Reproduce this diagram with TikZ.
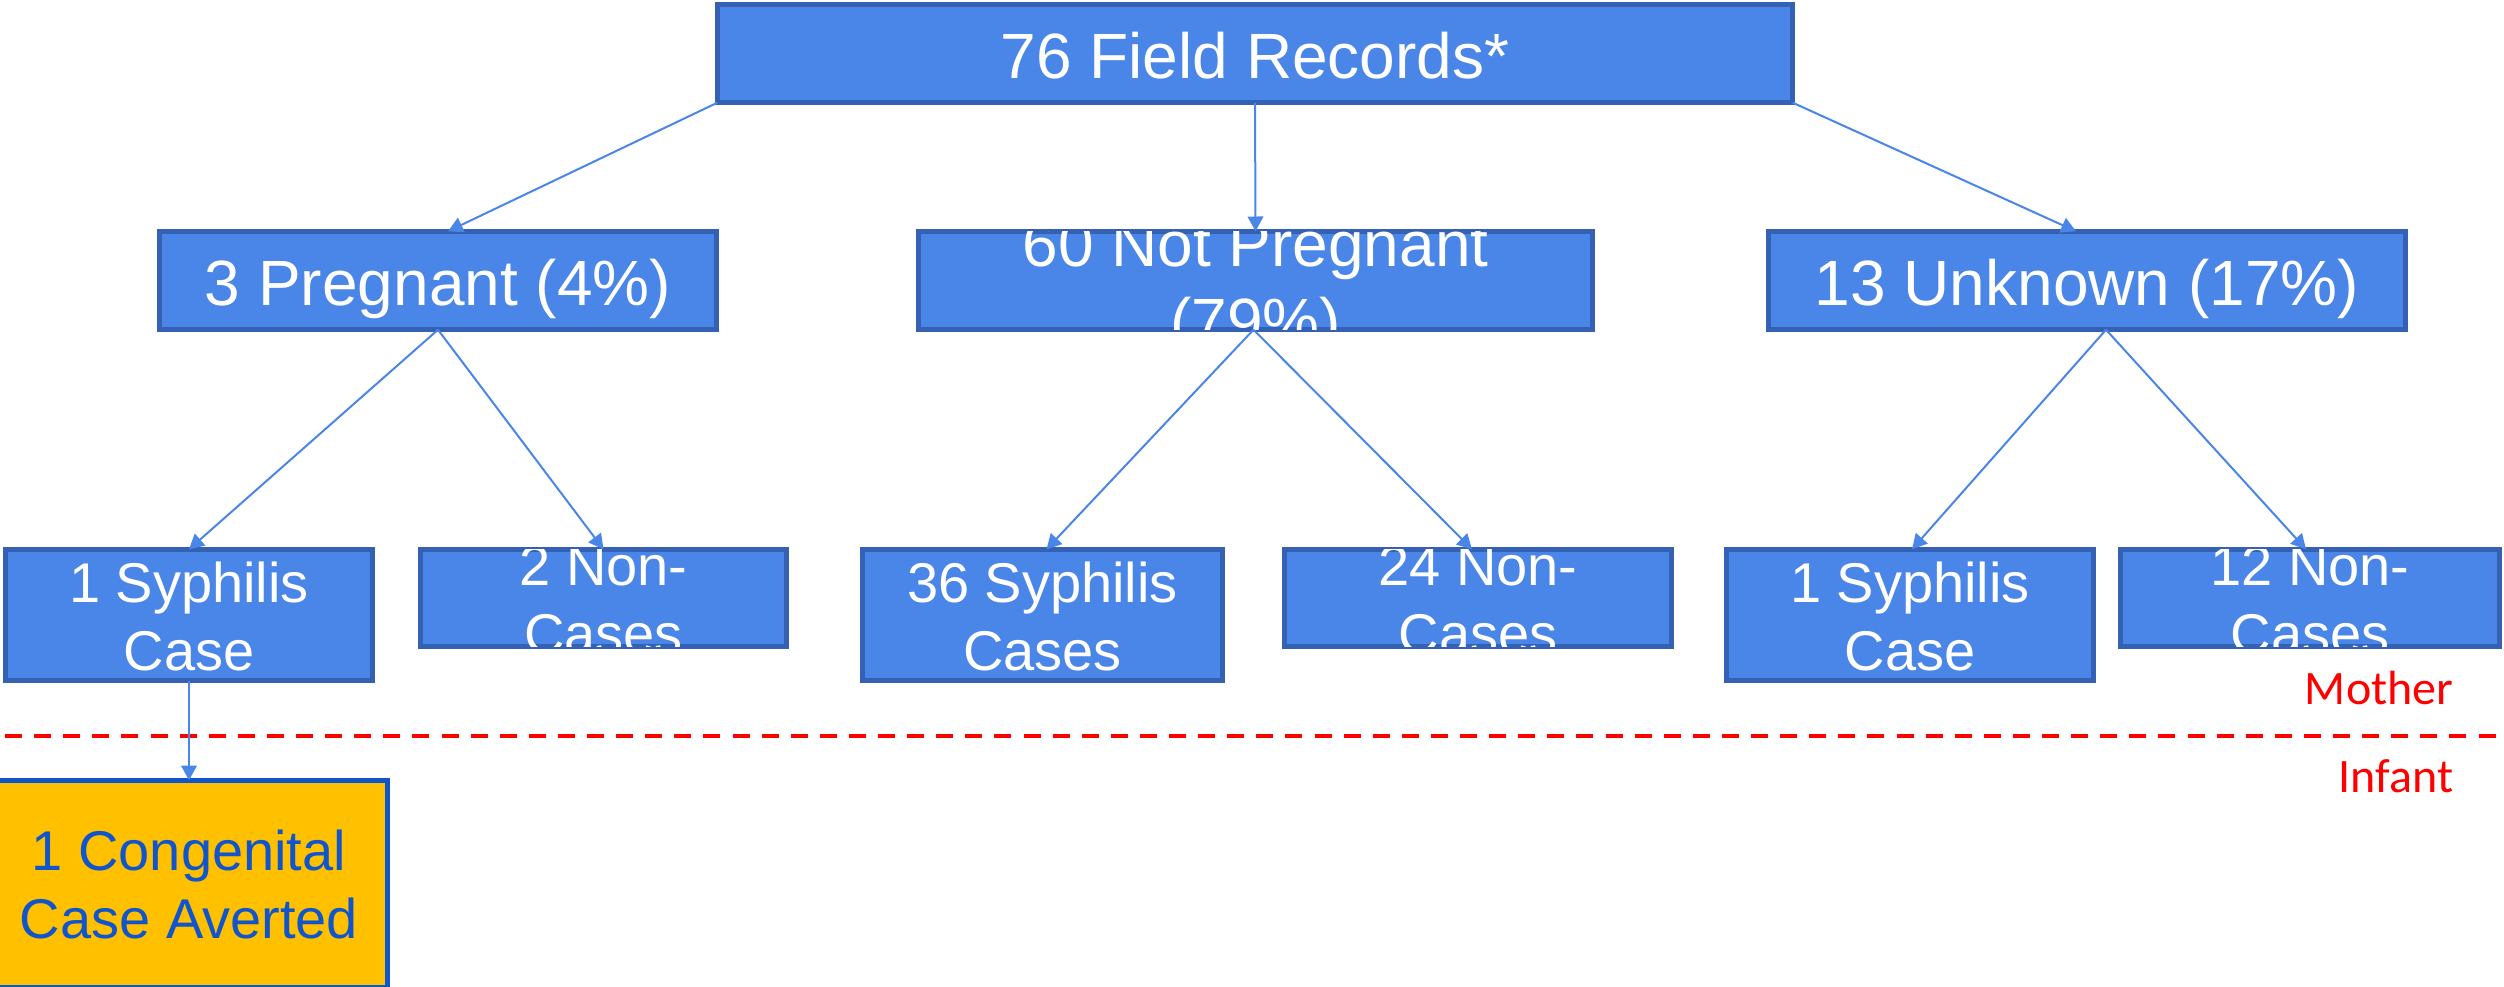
\documentclass[tikz,border=0pt]{standalone}
\usepackage{fontspec}
\setmainfont{Liberation Sans}
\newfontfamily\calfont{Carlito}
\usetikzlibrary{arrows.meta,calc}
\definecolor{boxfill}{HTML}{4A86E8}
\definecolor{boxline}{HTML}{3461B3}
\definecolor{connc}{HTML}{4A86E8}
\definecolor{congfill}{HTML}{FFC000}
\definecolor{congblue}{HTML}{1155CC}
\definecolor{sepred}{HTML}{FF0000}
\tikzset{
  box/.style={fill=boxfill, draw=boxline, line width=1.15pt, inner sep=0pt, outer sep=0pt},
  congbox/.style={fill=congfill, draw=congblue, line width=1.2pt, inner sep=0pt, outer sep=0pt},
  bigtext/.style={font=\fontsize{16}{19}\selectfont, text=white, anchor=base, inner sep=0pt},
  smalltext/.style={font=\fontsize{14}{17}\selectfont, text=white, anchor=base, inner sep=0pt},
  congtext/.style={font=\fontsize{14}{17}\selectfont, text=congblue, anchor=base, inner sep=0pt},
  sidelabel/.style={font=\calfont\fontsize{12}{14}\selectfont, text=sepred, anchor=base east, inner sep=0pt},
  conn/.style={draw=connc, line width=0.5pt, -{Triangle[width=3.9pt,length=3.7pt]}},
  sepline/.style={draw=sepred, line width=1pt, dash pattern=on 4.25pt off 3.025pt},
}
\newcommand\mkbox[6]{%
  \node[#1, minimum width={(#5-#3-4.6)*0.25pt}, minimum height={(#6-#4-4.6)*0.25pt}] (#2) at ({(#3+#5)/2},{(#4+#6)/2}) {};}
\newcommand\onel[4]{%
  \begin{scope}\clip (#1.south west) rectangle (#1.north east);
  \node[#2] (#1-a) at ($(#1.center)+(0,#3)$) {#4};\end{scope}}
\newcommand\twol[6]{%
  \begin{scope}\clip (#1.south west) rectangle (#1.north east);
  \node[#2] (#1-a) at ($(#1.center)+(0,#3)$) {#5};
  \node[#2] (#1-b) at ($(#1.center)+(0,#4)$) {#6};\end{scope}}
\begin{document}
\begin{tikzpicture}[x=0.25pt, y=-0.25pt]
\useasboundingbox (0,0) rectangle (2504,986);
% boxes
\mkbox{box}{top}{715}{2}{1795}{105}
\mkbox{box}{preg}{157}{229}{719}{332}
\mkbox{box}{notp}{916}{229}{1595}{332}
\mkbox{box}{unk}{1766}{229}{2408}{332}
\mkbox{box}{s1}{3}{547}{375}{683}
\mkbox{box}{n2}{418}{547}{789}{649}
\mkbox{box}{s36}{860}{547}{1225}{683}
\mkbox{box}{n24}{1282}{547}{1674}{649}
\mkbox{box}{s1r}{1724}{547}{2096}{683}
\mkbox{box}{n12}{2118}{547}{2502}{649}
\mkbox{congbox}{cong}{-12}{778}{390}{990}
% texts
\onel{top}{bigtext}{24.5}{76 Field Records*}
\onel{preg}{bigtext}{24.5}{3 Pregnant (4\%)}
\twol{notp}{bigtext}{-14}{63}{60 Not Pregnant}{(79\%)}
\onel{unk}{bigtext}{24.5}{13 Unknown (17\%)}
\twol{s1}{smalltext}{-13}{55}{1 Syphilis}{Case}
\twol{n2}{smalltext}{-13}{55}{2 Non-}{Cases}
\twol{s36}{smalltext}{-13}{55}{36 Syphilis}{Cases}
\twol{n24}{smalltext}{-13}{55}{24 Non-}{Cases}
\twol{s1r}{smalltext}{-13}{55}{1 Syphilis}{Case}
\twol{n12}{smalltext}{-13}{55}{12 Non-}{Cases}
\twol{cong}{congtext}{-14}{54}{1 Congenital}{Case Averted}
% separator
\coordinate (sepL) at (5,736);
\coordinate (sepR) at (2504,736);
\draw[sepline] (sepL) -- (sepR);
\node[sidelabel] (mother) at (2454,704) {Mother};
\node[sidelabel] (infant) at (2454,792) {Infant};
% connectors
\draw[conn] (top.south west) -- ($(preg.north)+(10,0)$);
\draw[conn] (top.south) -- (notp.north);
\draw[conn] (top.south east) -- ($(unk.north)+(-11,0)$);
\draw[conn] (preg.south) -- (s1.north);
\draw[conn] (preg.south) -- (n2.north);
\draw[conn] ($(notp.south)+(-2,0)$) -- ($(s36.north)+(4,0)$);
\draw[conn] ($(notp.south)+(-2,0)$) -- ($(n24.north)+(-6,0)$);
\draw[conn] ($(unk.south)+(19,0)$) -- ($(s1r.north)+(2,0)$);
\draw[conn] ($(unk.south)+(19,0)$) -- ($(n12.north)+(-4,0)$);
\draw[conn] (s1.south) -- (cong.north);
\end{tikzpicture}
\end{document}
